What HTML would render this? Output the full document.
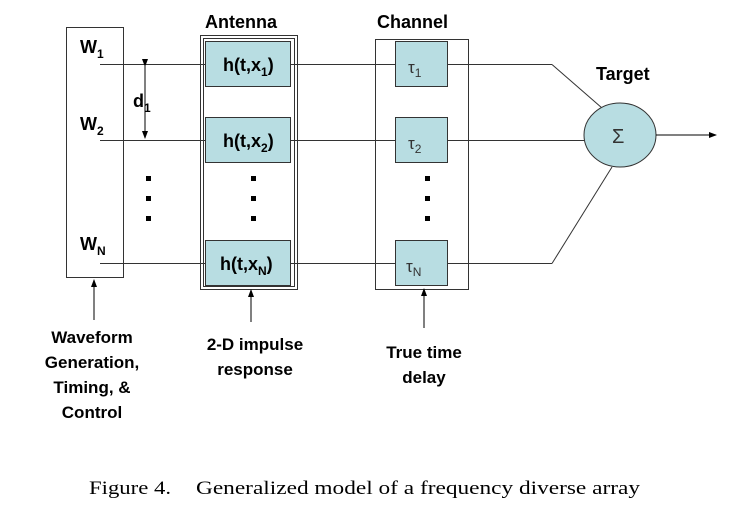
<!DOCTYPE html><html><head><style>body{margin:0;background:#fff}</style></head><body>
<svg width="741" height="512" xmlns="http://www.w3.org/2000/svg" font-family="Liberation Sans, sans-serif">
<defs><marker id="a" markerWidth="8" markerHeight="8" refX="7" refY="4" orient="auto" markerUnits="userSpaceOnUse"><path d="M0,1 L8,4 L0,7z" fill="#000"/></marker></defs>
<g stroke="#333" stroke-width="1" fill="none">
<rect x="66.5" y="27.5" width="57" height="250"/>
<rect x="200.5" y="35.5" width="97" height="254"/>
<rect x="203.5" y="38.5" width="91" height="248"/>
<rect x="375.5" y="39.5" width="93" height="250"/>
<line x1="100" y1="64.5" x2="552" y2="64.5"/><line x1="552" y1="64.5" x2="602" y2="108"/>
<line x1="100" y1="140.5" x2="584" y2="140.5"/>
<line x1="100" y1="263.5" x2="552" y2="263.5"/><line x1="552" y1="263.5" x2="612" y2="167"/>
</g>
<g fill="#b8dde2" stroke="#333">
<rect x="205.5" y="41.5" width="85" height="45"/><rect x="205.5" y="117.5" width="85" height="45"/><rect x="205.5" y="240.5" width="85" height="45"/>
<rect x="395.5" y="41.5" width="52" height="45"/><rect x="395.5" y="117.5" width="52" height="45"/><rect x="395.5" y="240.5" width="52" height="45"/>
<ellipse cx="620" cy="135" rx="36" ry="32"/>
</g>
<g stroke="#000" fill="none">
<line x1="145" y1="66" x2="145" y2="138" marker-start="url(#a)" marker-end="url(#a)"/>
<line x1="656" y1="135" x2="716" y2="135" marker-end="url(#a)"/>
<line x1="94" y1="320" x2="94" y2="280" marker-end="url(#a)"/>
<line x1="251" y1="322" x2="251" y2="290" marker-end="url(#a)"/>
<line x1="424" y1="328" x2="424" y2="289" marker-end="url(#a)"/>
</g>
<g fill="#000">
<rect x="146" y="176" width="5" height="5"/><rect x="146" y="196" width="5" height="5"/><rect x="146" y="216" width="5" height="5"/>
<rect x="251" y="176" width="5" height="5"/><rect x="251" y="196" width="5" height="5"/><rect x="251" y="216" width="5" height="5"/>
<rect x="425" y="176" width="5" height="5"/><rect x="425" y="196" width="5" height="5"/><rect x="425" y="216" width="5" height="5"/>
</g>
<g font-size="18" font-weight="bold" fill="#000">
<text x="80" y="53">W<tspan font-size="12" dy="5">1</tspan></text>
<text x="80" y="130">W<tspan font-size="12" dy="5">2</tspan></text>
<text x="80" y="250">W<tspan font-size="12" dy="5">N</tspan></text>
<text x="133" y="107">d<tspan font-size="12" dy="5">1</tspan></text>
<text x="223" y="71">h(t,x<tspan font-size="12" dy="5">1</tspan><tspan dy="-5">)</tspan></text>
<text x="223" y="147">h(t,x<tspan font-size="12" dy="5">2</tspan><tspan dy="-5">)</tspan></text>
<text x="220" y="270">h(t,x<tspan font-size="12" dy="5">N</tspan><tspan dy="-5">)</tspan></text>
<text x="205" y="28">Antenna</text>
<text x="377" y="28">Channel</text>
<text x="596" y="80">Target</text>
<g font-size="17" text-anchor="middle">
<text x="92" y="343">Waveform</text><text x="92" y="368">Generation,</text><text x="92" y="393">Timing, &amp;</text><text x="92" y="418">Control</text>
<text x="255" y="350">2-D impulse</text><text x="255" y="375">response</text>
<text x="424" y="358">True time</text><text x="424" y="383">delay</text>
</g></g>
<g font-size="17" fill="#333">
<text x="408" y="73">τ<tspan font-size="12" dy="4">1</tspan></text>
<text x="408" y="149">τ<tspan font-size="12" dy="4">2</tspan></text>
<text x="406" y="272">τ<tspan font-size="12" dy="4">N</tspan></text>
<text x="612" y="143" font-size="20">Σ</text>
</g>
<text x="89" y="494" font-family="Liberation Serif, serif" font-size="19" textLength="82" lengthAdjust="spacingAndGlyphs">Figure 4.</text>
<text x="196" y="494" font-family="Liberation Serif, serif" font-size="19" textLength="444" lengthAdjust="spacingAndGlyphs">Generalized model of a frequency diverse array</text>
</svg></body></html>
